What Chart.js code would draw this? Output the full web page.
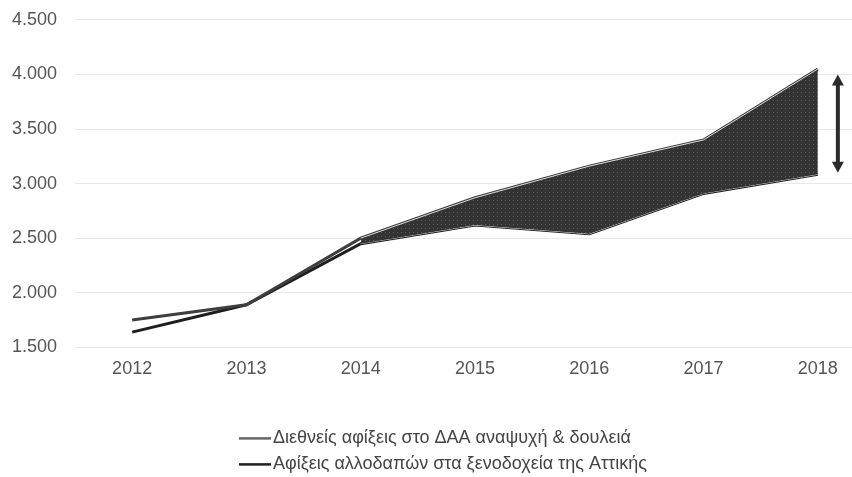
<!DOCTYPE html>
<html lang="el">
<head>
<meta charset="utf-8">
<script src="https://cdn.jsdelivr.net/npm/chart.js@4"></script>
<style>
  html, body { margin: 0; padding: 0; background: #fff; overflow: hidden; }
  #wrap { width: 880px; height: 486px; margin-top: -9px; }
</style>
</head>
<body>
<div id="wrap"><canvas id="arrivalsChart"></canvas></div>
<script>
// Years and arrivals (thousands)
const years = ["2012", "2013", "2014", "2015", "2016", "2017", "2018"];
const airportArrivals = [1750, 1890, 2500, 2870, 3160, 3400, 4050];
const hotelArrivals = [1640, 1890, 2450, 2620, 2540, 2910, 3085];
// Gap shaded from 2014 on
const gapTop = [null, null, 2500, 2870, 3160, 3400, 4050];
const gapBottom = [null, null, 2450, 2620, 2540, 2910, 3085];
// Double arrow next to the last year
const arrowRange = [4000, 3100];

const labelAirport = "Διεθνείς αφίξεις στο ΔΑΑ αναψυχή & δουλειά";
const labelHotel = "Αφίξεις αλλοδαπών στα ξενοδοχεία της Αττικής";

const FONT = "Liberation Sans";

// dotted dark pattern for the gap area
const makePattern = () => {
  const c = document.createElement("canvas");
  c.width = 4; c.height = 4;
  const p = c.getContext("2d");
  p.fillStyle = "#333";
  p.fillRect(0, 0, 4, 4);
  p.fillStyle = "#5a5a5a";
  p.fillRect(1, 1, 1, 1);
  return p.createPattern(c, "repeat");
};

const fmt = (v) => v.toLocaleString("de-DE");

const arrowPlugin = {
  id: "gapArrow",
  afterDatasetsDraw(chart) {
    const { ctx, scales } = chart;
    const x = scales.x.getPixelForValue(years.length - 1) + 20;
    const y1 = scales.y.getPixelForValue(arrowRange[0]);
    const y2 = scales.y.getPixelForValue(arrowRange[1]);
    ctx.save();
    ctx.strokeStyle = "#2b2b2b";
    ctx.fillStyle = "#2b2b2b";
    ctx.lineWidth = 4;
    ctx.beginPath();
    ctx.moveTo(x, y1 + 8);
    ctx.lineTo(x, y2 - 8);
    ctx.stroke();
    ctx.beginPath();
    ctx.moveTo(x, y1);
    ctx.lineTo(x - 6, y1 + 11);
    ctx.lineTo(x + 6, y1 + 11);
    ctx.closePath();
    ctx.fill();
    ctx.beginPath();
    ctx.moveTo(x, y2);
    ctx.lineTo(x - 6, y2 - 11);
    ctx.lineTo(x + 6, y2 - 11);
    ctx.closePath();
    ctx.fill();
    ctx.restore();
  }
};

// two-row legend under the axis, rows left-aligned
const stackedLegend = {
  id: "stackedLegend",
  afterDraw(chart) {
    const { ctx } = chart;
    const sets = chart.data.datasets.filter((d) => !d.helper);
    ctx.save();
    ctx.font = "18px " + FONT;
    ctx.textBaseline = "middle";
    const lineW = 32;
    const widths = sets.map((d) => lineW + 2 + ctx.measureText(d.label).width);
    const left = Math.round(chart.width / 2 - Math.max(...widths) / 2 + 3);
    sets.forEach((d, i) => {
      const y = chart.chartArea.bottom + 91 + i * 26;
      ctx.strokeStyle = d.legendColor || d.borderColor;
      ctx.lineWidth = 2.5;
      ctx.beginPath();
      ctx.moveTo(left, y);
      ctx.lineTo(left + lineW, y);
      ctx.stroke();
      ctx.fillStyle = "#444";
      ctx.fillText(d.label, left + lineW + 2, y);
    });
    ctx.restore();
  }
};

const ctx = document.getElementById("arrivalsChart").getContext("2d");
new Chart(ctx, {
  type: "line",
  data: {
    labels: years,
    datasets: [
      {
        label: labelAirport,
        data: airportArrivals,
        borderColor: "#3e3e3e",
        legendColor: "#666",
        borderWidth: 3,
        pointRadius: 0,
        fill: false,
        order: 3,
      },
      {
        label: labelHotel,
        data: hotelArrivals,
        borderColor: "#1e1e1e",
        borderWidth: 3,
        pointRadius: 0,
        fill: false,
        order: 3,
      },
      {
        label: "gapTop",
        helper: true,
        data: gapTop,
        borderColor: "rgba(235,235,235,0.9)",
        borderWidth: 1,
        pointRadius: 0,
        backgroundColor: makePattern(),
        fill: "+1",
        order: 1,
      },
      {
        label: "gapBottom",
        helper: true,
        data: gapBottom,
        borderColor: "rgba(235,235,235,0.9)",
        borderWidth: 1,
        pointRadius: 0,
        fill: false,
        order: 1,
      },
    ],
  },
  options: {
    responsive: true,
    maintainAspectRatio: false,
    animation: false,
    layout: { padding: { top: 19, left: 12, right: 5, bottom: 94 } },
    scales: {
      x: {
        offset: true,
        grid: { display: false },
        border: { display: false },
        ticks: { color: "#555", font: { family: FONT, size: 18 }, padding: 3 },
      },
      y: {
        min: 1500,
        max: 4500,
        grid: { color: "#e9e9e9", drawTicks: false },
        border: { display: false },
        afterFit: (scale) => { scale.width = 63; },
        ticks: {
          stepSize: 500,
          color: "#555",
          padding: 18,
          font: { family: FONT, size: 18 },
          callback: (v) => fmt(v),
        },
      },
    },
    plugins: {
      legend: { display: false },
      tooltip: { enabled: false },
    },
  },
  plugins: [arrowPlugin, stackedLegend],
});
</script>
</body>
</html>
